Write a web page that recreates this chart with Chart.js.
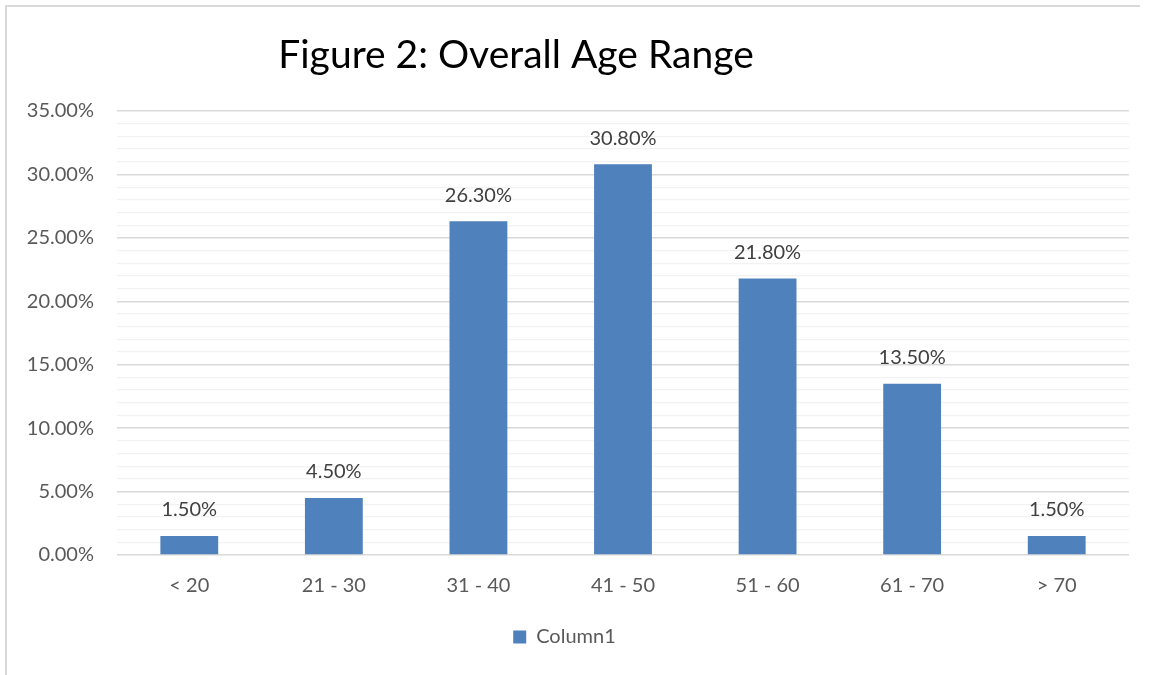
<!DOCTYPE html>
<html>
<head>
<meta charset="utf-8">
<script src="https://cdn.jsdelivr.net/npm/chart.js@4.4.1/dist/chart.umd.min.js"></script>
<style>
  html, body { margin: 0; padding: 0; background: #ffffff; }
  body { width: 1149px; height: 675px; position: relative; overflow: hidden; }
  #frame { position: absolute; left: 5px; top: 5px; width: 1135px; height: 675px;
           border-left: 2px solid #d9d9d9; border-top: 2px solid #d9d9d9; box-sizing: border-box; }
  #wrap { position: absolute; left: 0; top: 0; width: 1149px; height: 675px; }
</style>
</head>
<body>
<div id="frame"></div>
<div id="wrap"><canvas id="chart"></canvas></div>
<script>
// Age ranges and their share of respondents (percent)
const categories = ['< 20', '21 - 30', '31 - 40', '41 - 50', '51 - 60', '61 - 70', '> 70'];
const column1 = [1.5, 4.5, 26.3, 30.8, 21.8, 13.5, 1.5];
const yTicks = [0, 5, 10, 15, 20, 25, 30, 35];

const FONT = 'Lato, "Open Sans", sans-serif';
const BAR = '#4f81bd';

const pct = v => v.toFixed(2) + '%';

// Title drawn left of center, as in the original layout
const titlePlugin = {
  id: 'figTitle',
  afterDraw(chart) {
    const c = chart.ctx;
    c.save();
    c.font = '39px ' + FONT;
    c.fillStyle = '#000000';
    c.textAlign = 'center';
    c.textBaseline = 'middle';
    c.fillText('Figure 2: Overall Age Range', 516, 55);
    c.restore();
  }
};

// Value labels above each bar
const valueLabels = {
  id: 'valueLabels',
  afterDatasetsDraw(chart) {
    const c = chart.ctx;
    c.save();
    c.font = '20px ' + FONT;
    c.fillStyle = '#404040';
    c.textAlign = 'center';
    c.textBaseline = 'middle';
    chart.getDatasetMeta(0).data.forEach((bar, i) => {
      c.fillText(pct(column1[i]), bar.x, bar.y - 26);
    });
    c.restore();
  }
};

new Chart(document.getElementById('chart'), {
  type: 'bar',
  data: {
    labels: categories,
    datasets: [{
      label: 'Column1',
      data: column1,
      backgroundColor: BAR,
      borderWidth: 0,
      categoryPercentage: 1,
      barPercentage: 0.4
    }]
  },
  options: {
    responsive: true,
    maintainAspectRatio: false,
    animation: false,
    devicePixelRatio: 1,
    layout: { padding: { top: 111, right: 20, left: 0, bottom: 18 } },
    plugins: {
      title: { display: false },
      tooltip: { enabled: false },
      legend: {
        display: true,
        position: 'bottom',
        labels: {
          boxWidth: 13,
          boxHeight: 13,
          padding: 10,
          color: '#595959',
          font: { family: FONT, size: 20 }
        }
      }
    },
    scales: {
      x: {
        grid: { display: false },
        border: { display: false },
        ticks: { color: '#595959', font: { family: FONT, size: 20 }, padding: 11 },
        afterFit(scale) { scale.height = 62; }
      },
      y: {
        min: 0,
        max: 35,
        afterBuildTicks(scale) {
          const t = [];
          for (let v = 0; v <= 35; v++) t.push({ value: v });
          scale.ticks = t;
        },
        grid: {
          drawTicks: false,
          color: ctx => (yTicks.includes(ctx.tick.value) ? '#d9d9d9' : '#f2f2f2'),
          lineWidth: ctx => (yTicks.includes(ctx.tick.value) ? 1.5 : 1.2)
        },
        border: { display: false },
        ticks: {
          autoSkip: false,
          color: '#595959',
          font: { family: FONT, size: 20 },
          padding: 23,
          callback: v => (yTicks.includes(v) ? pct(v) : '')
        },
        afterFit(scale) { scale.width = 117; }
      }
    }
  },
  plugins: [titlePlugin, valueLabels]
});
</script>
</body>
</html>
